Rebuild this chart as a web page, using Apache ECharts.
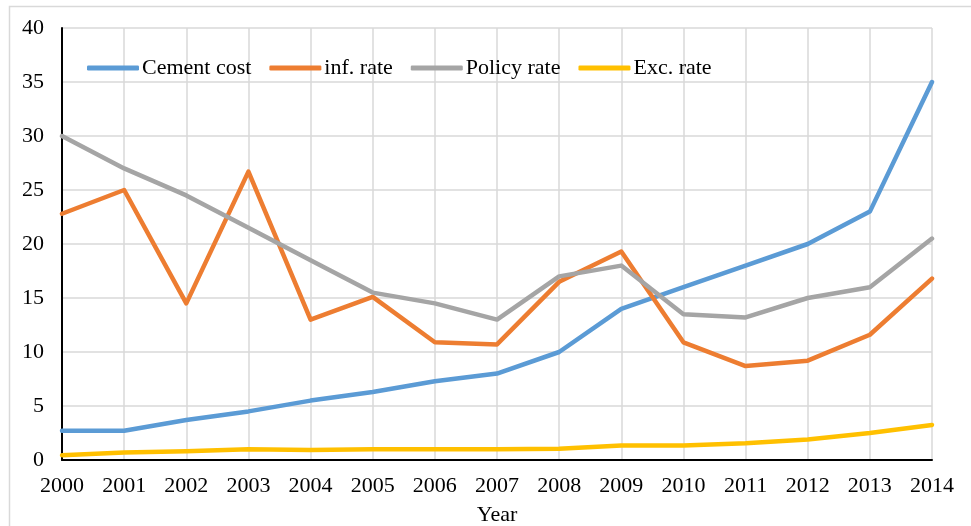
<!DOCTYPE html>
<html>
<head>
<meta charset="utf-8">
<script src="https://cdn.jsdelivr.net/npm/echarts@6/dist/echarts.min.js"></script>
<style>html,body{margin:0;padding:0;background:#fff;}#chart{width:971px;height:526px;}</style>
</head>
<body>
<div id="chart"></div>
<script>
var years = ['2000','2001','2002','2003','2004','2005','2006','2007','2008','2009','2010','2011','2012','2013','2014'];
var cementCost = [2.7, 2.7, 3.7, 4.5, 5.5, 6.3, 7.3, 8.0, 10.0, 14.0, 16.0, 18.0, 20.0, 23.0, 35.0];
var infRate = [22.8, 25.0, 14.5, 26.7, 13.0, 15.1, 10.9, 10.7, 16.5, 19.3, 10.9, 8.7, 9.2, 11.6, 16.8];
var policyRate = [30.0, 27.0, 24.5, 21.5, 18.5, 15.5, 14.5, 13.0, 17.0, 18.0, 13.5, 13.2, 15.0, 16.0, 20.5];
var excRate = [0.45, 0.7, 0.8, 1.0, 0.93, 1.0, 1.0, 1.0, 1.05, 1.35, 1.35, 1.55, 1.9, 2.5, 3.25];

var font = '"Liberation Serif", "Times New Roman", serif';
var chart = echarts.init(document.getElementById('chart'), null, {renderer: 'canvas'});
function mk(name, data, color) {
  return {name: name, type: 'line', data: data, symbol: 'none', smooth: false,
    lineStyle: {width: 4.5, color: color, cap: 'round', join: 'round'}, itemStyle: {color: color}};
}
chart.setOption({
  animation: false,
  backgroundColor: '#fff',
  graphic: [
    {type: 'polyline', shape: {points: [[9.5, 530], [9.5, 6.5], [975, 6.5]]}, style: {stroke: '#d9d9d9', fill: null, lineWidth: 1.5}, silent: true}
  ],
  grid: {left: 62, right: 39, top: 28, bottom: 66, containLabel: false, outerBoundsMode: 'none'},
  legend: {
    left: 87, top: 57, padding: 0, icon: 'roundRect', itemWidth: 52, itemHeight: 5, itemGap: 18,
    textStyle: {fontFamily: font, fontSize: 22, color: '#000', padding: [0, 0, 0, -2]},
    data: ['Cement cost', 'inf. rate', 'Policy rate', 'Exc. rate']
  },
  xAxis: {
    type: 'category', data: years, boundaryGap: false,
    name: 'Year', nameLocation: 'middle', nameGap: 44,
    nameTextStyle: {fontFamily: font, fontSize: 22, color: '#000'},
    axisLine: {lineStyle: {color: '#000', width: 2}},
    axisTick: {show: false},
    axisLabel: {fontFamily: font, fontSize: 22, color: '#000', margin: 15},
    splitLine: {show: true, lineStyle: {color: '#d9d9d9', width: 1.5}}
  },
  yAxis: {
    type: 'value', min: 0, max: 40, interval: 5,
    axisLine: {show: true, lineStyle: {color: '#000', width: 2}},
    axisTick: {show: false},
    axisLabel: {fontFamily: font, fontSize: 22, color: '#000', margin: 18},
    splitLine: {show: true, lineStyle: {color: '#d9d9d9', width: 1.5}}
  },
  series: [
    mk('Cement cost', cementCost, '#5b9bd5'),
    mk('inf. rate', infRate, '#ed7d31'),
    mk('Policy rate', policyRate, '#a5a5a5'),
    mk('Exc. rate', excRate, '#ffc000')
  ]
});
</script>
</body>
</html>
